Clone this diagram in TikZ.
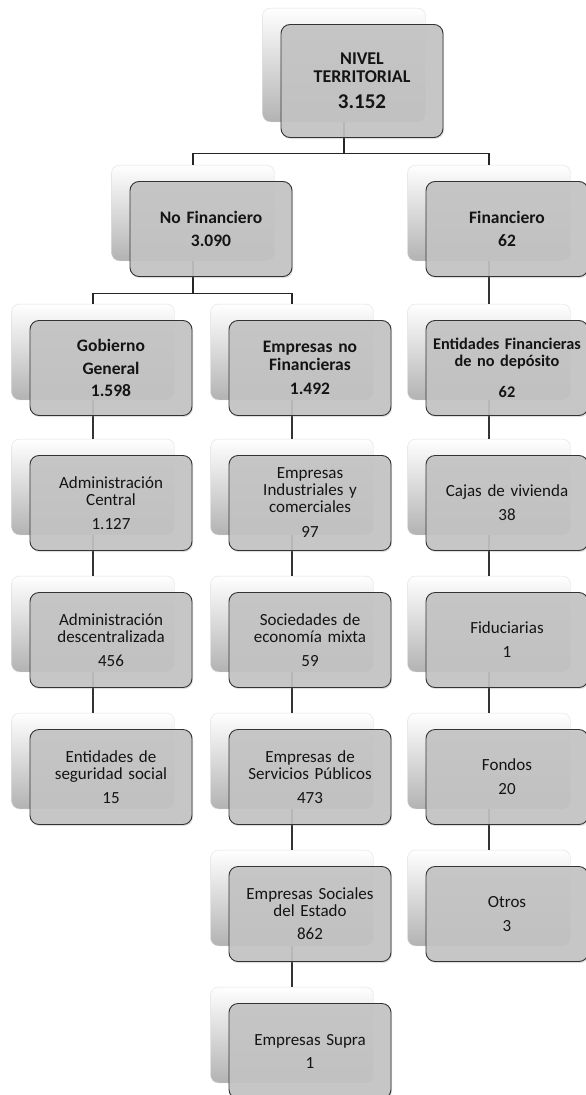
\documentclass[tikz,border=0pt]{standalone}
\usepackage{fontspec}
\setmainfont{Carlito}
\usepackage{tikz}
\usetikzlibrary{positioning,fit,backgrounds,shadows}

\begin{document}
\begin{tikzpicture}[x=1pt,y=-1pt]
    \tikzstyle{card} = [draw=black!80,line width=.9pt,fill=black!23,fill opacity=.9,text opacity=1,text=black!92,rounded corners=9pt,minimum width=162pt,minimum height=95pt,inner sep=0pt,text width=156pt,align=center,font=\fontsize{17}{17}\selectfont,drop shadow={shadow xshift=1pt,shadow yshift=-1.5pt,opacity=.25}]
    \tikzstyle{head} = [card,font=\fontsize{17.5}{17.5}\selectfont\bfseries]
    \tikzstyle{ghost} = [draw=black!12,top color=white,bottom color=black!30,rounded corners=8pt,inner sep=0pt]
    \tikzstyle{bus} = [black!85,line width=1.2pt]
    \tikzstyle{chain} = [black!80,line width=2.4pt]
      \useasboundingbox (0,0) rectangle (586,1095);
      \node[head,minimum height=113pt,font=\fontsize{18}{18}\selectfont\bfseries] (nivel) at (362,81) {NIVEL\\TERRITORIAL\\[8pt]{\fontsize{21}{21}\selectfont 3.152}};
      \node[head] (nofin) at (211,229) {No Financiero\\[6pt]3.090};
      \node[head] (fin) at (507,229) {Financiero\\[6pt]62};
      \node[head] (gob) at (111,368) {Gobierno\\[5pt]General\\[5pt]1.598};
      \node[head] (empnofin) at (310,368) {Empresas no\\Financieras\\[7pt]1.492};
      \node[head,font=\fontsize{16.3}{16.3}\selectfont\bfseries] (entfin) at (507,368) {Entidades Financieras\\de no depósito\\[15pt]62};
      \node[card] (admc) at (111,503) {Administración\\Central\\[7pt]1.127};
      \node[card] (admd) at (111,640) {Administración\\descentralizada\\[7pt]456};
      \node[card] (segsoc) at (111,777) {Entidades de\\seguridad social\\[7pt]15};
      \node[card] (indcom) at (310,503) {Empresas\\Industriales y\\comerciales\\[8pt]97};
      \node[card] (socmix) at (310,640) {Sociedades de\\economía mixta\\[7pt]59};
      \node[card] (servpub) at (310,777) {Empresas de\\Servicios Públicos\\[7pt]473};
      \node[card] (socest) at (310,914) {Empresas Sociales\\del Estado\\[6pt]862};
      \node[card] (supra) at (310,1051) {Empresas Supra\\[6pt]1};
      \node[card] (cajas) at (507,503) {Cajas de vivienda\\[7pt]38};
      \node[card] (fiduc) at (507,640) {Fiduciarias\\[7pt]1};
      \node[card] (fondos) at (507,777) {Fondos\\[7pt]20};
      \node[card] (otros) at (507,914) {Otros\\[7pt]3};
      \begin{scope}[on background layer]
        \fill[white] (0,0) rectangle (586,1095);
        \foreach \n in {nivel,nofin,fin,gob,empnofin,entfin,admc,admd,segsoc,indcom,socmix,servpub,socest,supra,cajas,fiduc,fondos,otros}
          \node[ghost,fit=(\n),xshift=-18pt,yshift=16pt] (\n-g) {};
        \draw[bus] (nivel-g.south) -- ++(0,31) -| (nofin-g.north);
        \draw[bus] (nivel-g.south) -- ++(0,31) -| (fin-g.north);
        \draw[bus] (nofin-g.south) -- ++(0,32) -| (gob-g.north);
        \draw[bus] (nofin-g.south) -- ++(0,32) -| (empnofin-g.north);
        \foreach \a/\b in {gob/admc,admc/admd,admd/segsoc,empnofin/indcom,indcom/socmix,socmix/servpub,servpub/socest,socest/supra,fin/entfin,entfin/cajas,cajas/fiduc,fiduc/fondos,fondos/otros}
          \draw[chain] (\a-g.south) -- (\b-g.north);
      \end{scope}
  \end{tikzpicture}
\end{document}
